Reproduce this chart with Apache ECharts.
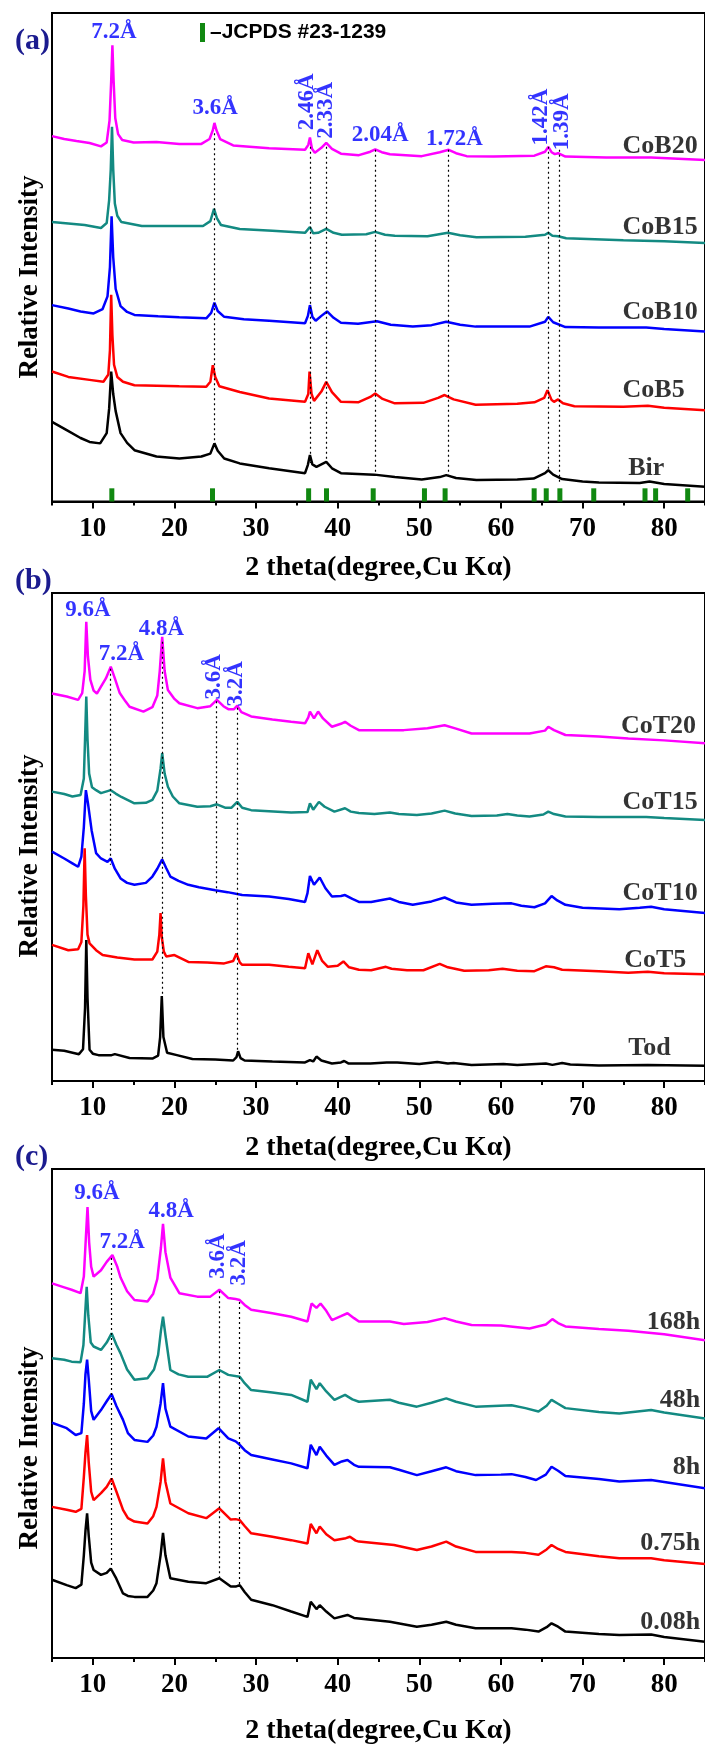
<!DOCTYPE html>
<html><head><meta charset="utf-8">
<script src="https://cdn.jsdelivr.net/npm/echarts@6/dist/echarts.min.js"></script>
<style>html,body{margin:0;padding:0;background:#fff}#c{width:705px;height:1746px}</style>
</head><body><div id="c"></div>
<script>
// ---------------- DATA ----------------
const majorTicks = [10, 20, 30, 40, 50, 60, 70, 80];
const minorTicks = [5, 15, 25, 35, 45, 55, 65, 75, 85];

// Panel (a) – birnessite series  [2theta, relative intensity (stacked)]
const CoB20 = [[5,74.8],[6.5,74.2],[8,73.8],[9.6,73.4],[11,72.7],[11.7,73.5],[12.05,78],[12.25,86],[12.4,93.4],[12.55,86],[12.75,78.5],[13.1,75.2],[13.6,74],[15,73.5],[17.8,73.6],[20.6,73.2],[23.3,73.2],[24.3,74.2],[24.7,76],[24.9,77.5],[25.15,76],[25.6,74.2],[27.2,72.9],[31.6,72.3],[36.0,72],[36.4,73],[36.6,74.5],[36.85,72.2],[37.2,71.4],[38.0,72.4],[38.6,73.4],[39.3,72.2],[40.4,71.2],[42.6,70.9],[44.0,71.6],[44.6,72.1],[45.4,71.5],[46.4,71.1],[50.3,70.7],[52.5,71.5],[53.6,72],[54.5,71.3],[55.8,70.7],[59.1,70.6],[64.1,70.8],[65.4,71.6],[65.8,72.6],[66.2,71.5],[66.6,71.1],[67.0,71.3],[67.9,70.6],[72.9,70.4],[78.4,70.4],[85,69.9]];
const CoB15 = [[5,57.2],[7,56.9],[9,56.6],[11,56.0],[11.7,57],[12.0,61.7],[12.2,68],[12.35,76.7],[12.5,68],[12.7,61],[13.0,58.5],[13.5,57.2],[16,56.4],[20,56.4],[23.5,56.4],[24.4,57.4],[24.85,59.9],[25.2,58],[25.7,56.6],[28,55.8],[32,55.4],[36.0,55.0],[36.6,56.2],[37.0,54.9],[37.6,55],[38.6,55.8],[39.5,55],[40.5,54.6],[43.5,54.7],[44.6,55.2],[45.8,54.6],[47,54.4],[51,54.3],[53.5,55.0],[55,54.5],[57,54.1],[63,54.2],[65.4,54.6],[65.8,55.0],[66.3,54.4],[67,54.3],[68,53.9],[75,53.5],[80,53.3],[85,52.9]];
const CoB10 = [[5,40.2],[7,39.5],[8.5,38.9],[10.1,38.5],[11.2,39.4],[11.8,42],[12.1,48],[12.3,58.4],[12.5,50],[12.8,43.5],[13.4,40.0],[14.2,38.8],[15.1,38.2],[18,37.9],[20.6,37.7],[23.9,37.5],[24.5,38.6],[24.9,40.7],[25.3,39],[26.1,37.8],[28.5,37.3],[31.6,37.0],[36.0,36.5],[36.35,38],[36.6,40.2],[36.9,37.8],[37.3,37.0],[38.0,38.0],[38.7,38.9],[39.5,37.6],[40.4,36.6],[42.5,36.4],[44.8,36.9],[46.5,36.2],[49.2,35.8],[51.5,36.1],[53.3,36.8],[55,36.2],[56.9,35.8],[63.5,35.8],[65.4,36.8],[65.8,37.8],[66.4,36.7],[67.9,35.7],[72,35.6],[77.8,35.6],[80,35.3],[85,34.8]];
const CoB5 = [[5,26.6],[7,25.5],[9.6,24.9],[11.3,24.5],[11.9,26],[12.1,31],[12.25,42.3],[12.4,34],[12.6,28],[13.0,25.5],[13.7,24.5],[15.1,23.8],[20.6,23.6],[23.9,23.5],[24.4,24.5],[24.7,27.9],[25.0,25.5],[25.5,23.6],[28,22.4],[31.6,21.1],[36.0,20.4],[36.4,22],[36.55,26.6],[36.8,22],[37.1,20.6],[38.0,22.5],[38.6,24.5],[39.3,22.4],[40.4,20.4],[42.5,20.3],[44.0,21.4],[44.6,22.1],[45.5,21],[47,20.1],[50.5,20.2],[52.3,21.2],[53.1,21.8],[54.2,20.9],[56.9,19.8],[62,20],[64.1,20.3],[65.3,21.2],[65.7,22.8],[66.2,20.8],[66.5,20.4],[67.0,20.9],[67.6,20.1],[69,19.5],[75,19.4],[78,19.6],[80,19.2],[85,18.7]];
const Bir = [[5,16.3],[6.8,14.6],[8.5,13.0],[9.6,12.2],[10.9,11.9],[11.7,14],[12.0,19],[12.25,26.6],[12.5,22],[12.8,18.5],[13.4,14.0],[14.2,12],[15.1,10.5],[17.8,9.2],[20.6,8.8],[23.3,9.2],[24.4,9.8],[24.9,11.9],[25.3,10.4],[26.1,8.8],[28,7.8],[31.6,6.8],[36.0,5.8],[36.35,7.5],[36.6,9.5],[36.9,7.6],[37.4,7.1],[38.0,7.6],[38.6,8.1],[39.3,6.8],[40.4,5.8],[44.5,5.5],[47,5],[50.3,4.5],[52.5,5],[53.3,5.4],[54.5,4.8],[57,4.4],[62,4.5],[64,4.7],[65.4,5.8],[65.8,6.4],[66.4,5.5],[67.5,4.6],[70,4.1],[72,3.9],[77,3.8],[78.2,4.1],[80,3.6],[85,3.0]];
const jcpdsPositions = [12.33, 24.66, 36.44, 38.63, 44.35, 50.63, 53.16, 64.07, 65.55, 67.22, 71.37, 77.65, 78.95, 82.88];
const jcpdsHeight = 2.7;

// Panel (b) – todorokite series
const CoT20 = [[5,79.4],[6.8,78.8],[8.2,78.1],[8.7,79.5],[9.0,84],[9.2,94.1],[9.4,87],[9.7,82.2],[10.1,80],[10.5,79.4],[11.0,80.8],[11.6,82.5],[12.2,84.9],[12.7,82.5],[13.3,79.5],[14.0,77.8],[14.5,76.7],[16.2,75.7],[17.3,76.6],[17.9,79],[18.2,84],[18.5,91.0],[18.8,84],[19.2,80.1],[20.0,78.3],[20.6,77.4],[22.8,76.4],[24.4,76.8],[25.2,78.1],[26.0,76.8],[26.6,76.2],[27.3,76.2],[27.7,76.9],[28.2,75.6],[29.4,74.7],[32,74.1],[34.3,73.6],[36.0,73.3],[36.4,74.5],[36.6,75.7],[37.1,74.3],[37.6,75.7],[38.2,74.3],[39.3,72.6],[40.4,73.2],[40.9,73.6],[41.6,72.8],[42.6,71.9],[46,71.9],[48.1,71.9],[51,72.3],[53.1,72.9],[54.5,72.2],[56.4,71.2],[60,71.2],[63.5,71.2],[65.4,71.8],[65.8,72.6],[66.5,71.9],[67.9,70.9],[72,70.6],[75.6,70.2],[80,69.8],[85,69.2]];
const CoT15 = [[5,59.3],[6.5,58.8],[7.5,58.3],[8.5,58.6],[8.9,62],[9.05,70],[9.2,78.8],[9.35,70],[9.55,63],[9.9,60.2],[10.4,59.6],[11.0,59.0],[11.6,59.3],[12.2,59.6],[12.8,58.9],[13.5,58.2],[15.1,56.9],[16.5,57],[17.3,57.6],[17.9,59.5],[18.3,64],[18.5,67.2],[18.8,63],[19.2,60.3],[19.8,58.3],[20.6,56.9],[22.8,56.2],[24.4,56.3],[25.2,56.7],[26.2,56.0],[27.0,56.0],[27.7,57.2],[28.3,56.0],[29.4,55.5],[34.3,55.0],[36.3,55.1],[36.6,56.9],[37.0,55.6],[37.7,57.2],[38.4,56.2],[39.6,55.2],[40.9,55.9],[41.6,55.2],[42.6,54.9],[44.5,54.7],[46.4,55.0],[47.5,54.7],[49.7,54.5],[51.5,54.8],[53.1,55.4],[54.4,54.8],[56.4,54.3],[59.5,54.4],[60.8,54.7],[62,54.4],[63.5,54.2],[65.2,54.6],[65.8,55.2],[66.5,54.7],[67.9,54.2],[72,54.1],[77.8,54.1],[80,53.9],[85,53.5]];
const CoT10 = [[5,47.0],[6.5,45.6],[7.5,44.6],[8.2,43.9],[8.6,46],[8.9,52],[9.15,59.6],[9.4,57],[9.85,51.4],[10.4,46.7],[11.0,45.6],[11.8,44.9],[12.2,45.6],[12.7,43.5],[13.4,41.5],[14.2,40.6],[15.1,40.2],[16.5,40.6],[17.3,41.9],[17.9,43.5],[18.5,45.4],[19.0,43.6],[19.5,41.9],[20.5,41.0],[21.7,40.2],[23,39.7],[25.0,39.1],[26.5,38.7],[28.3,38.1],[31.6,37.8],[34,37.3],[36.0,36.7],[36.3,38.5],[36.6,42.0],[37.1,40.2],[37.8,41.7],[38.5,39.5],[39.3,37.8],[40.4,37.9],[40.9,38.1],[41.8,37.3],[42.6,36.7],[44.1,36.7],[46.4,37.4],[47.5,36.7],[49.2,36.1],[51.5,36.8],[53.1,37.6],[54.5,36.6],[56.4,36.1],[59,36.3],[61.3,36.4],[62.5,35.9],[64.1,35.6],[65.4,36.4],[66.2,37.9],[66.9,37.0],[67.9,36.1],[70,35.5],[74.5,35.2],[77,35.5],[78.4,35.7],[80,35.2],[85,34.4]];
const CoT5 = [[5,27.9],[7,26.8],[8.2,27],[8.6,28.5],[8.85,36],[9.0,47.7],[9.15,38],[9.35,30],[9.6,28.2],[10.4,26.8],[11.2,25.8],[13,25.3],[15.1,24.9],[17.3,24.9],[17.9,26.5],[18.15,30],[18.3,34.4],[18.45,29.5],[18.7,26.5],[19.0,25.5],[20.0,25.8],[21.7,24.4],[24,24.3],[26.1,24.1],[27.2,24.6],[27.6,26.1],[28.0,24.3],[28.3,23.8],[31.6,23.8],[34,23.4],[36.0,23.1],[36.4,26.2],[36.9,23.9],[37.5,26.8],[38.1,24.6],[38.8,23.4],[40.0,23.6],[40.7,24.5],[41.4,23.3],[42.6,22.8],[44.1,22.7],[45.9,23.4],[46.6,23.0],[48.5,22.7],[50.5,22.7],[52.5,24.0],[53.5,23.3],[55.5,22.6],[58.5,22.7],[60.2,23.0],[62,22.6],[64.1,22.5],[65.5,23.5],[66.5,23.3],[67.5,22.8],[69,22.7],[72,22.5],[75.6,22.2],[78,22.4],[80,22.1],[85,21.9]];
const Tod = [[5,6.4],[6.5,6.2],[8.3,5.5],[8.8,6.5],[9.05,15],[9.2,28.9],[9.35,17],[9.6,6.4],[10.0,5.6],[10.7,5.3],[12.3,5.3],[12.7,5.5],[14.5,4.7],[17.3,4.6],[18.0,5.2],[18.25,9],[18.45,17.4],[18.65,9],[19.1,5.8],[20.3,5.3],[22.2,4.5],[25,4.4],[27.2,4.2],[27.6,4.9],[27.8,6.1],[28.1,4.7],[28.6,4.2],[32,4.0],[36.0,3.8],[36.6,4.3],[37.0,4.0],[37.4,5.0],[38,4.2],[39.3,3.6],[40.4,3.8],[40.8,4.1],[41.3,3.6],[44,3.6],[46,3.8],[47.3,3.8],[50,3.5],[52.2,3.9],[53.5,3.6],[54.2,3.7],[56.4,3.3],[60.3,3.5],[62,3.3],[65.5,3.6],[66.3,3.3],[67.5,3.7],[68.5,3.4],[72,3.2],[78,3.3],[85,3.1]];

// Panel (c) – aging time series
const h168 = [[5,76.6],[6.5,75.8],[7.4,75.3],[8.5,74.6],[8.9,78],[9.15,86],[9.35,92.2],[9.55,85],[9.8,80],[10.1,78.0],[11.0,79.3],[11.7,81],[12.4,82.4],[13.0,80],[13.4,77.8],[14.2,75],[15.1,73.2],[16.7,72.9],[17.4,74.5],[17.9,77.5],[18.35,84],[18.6,88.8],[18.9,83],[19.5,77.8],[20.6,74.6],[22.8,73.9],[24.4,73.9],[25.5,75.3],[26.6,73.6],[27.5,73.4],[28.0,73.2],[28.6,72.2],[29.4,71.2],[32,70.5],[34.3,69.8],[36.3,68.8],[36.8,72.5],[37.4,71.6],[37.9,72.5],[38.6,71],[39.3,69.1],[40.4,69.9],[41.2,70.5],[42,69.5],[42.6,68.8],[46.4,68.8],[48.1,68.3],[51,68.7],[53.1,69.5],[54.5,68.8],[56.4,68.1],[60,68],[63.5,67.4],[65.5,68.2],[66.3,69.3],[67,68.5],[67.9,67.8],[72,67.3],[75.6,66.9],[80,66.2],[85,65.0]];
const h48 = [[5,61.3],[6.5,61.0],[7.4,60.6],[8.5,60.5],[8.85,64],[9.05,70],[9.25,75.9],[9.45,70],[9.75,64.5],[10.1,63.7],[11.0,63.0],[11.7,64.5],[12.3,66.4],[12.9,64],[13.4,62.3],[14.2,59],[15.1,56.9],[16.7,57.2],[17.5,59],[18.0,62],[18.35,67],[18.6,69.8],[18.9,66],[19.5,58.9],[20.5,58.0],[21.7,57.5],[24,57.5],[25.5,58.9],[26.6,57.9],[28.0,57.5],[28.6,56.2],[29.4,54.8],[32,54.3],[34.3,53.8],[36.3,52.4],[36.7,56.9],[37.4,55],[37.8,56.2],[38.6,54.5],[39.6,52.8],[40.9,53.8],[41.8,52.9],[42.6,52.4],[46.4,52.8],[47.5,52.2],[49.7,51.4],[51.5,52.2],[53.3,53.1],[54.5,52.4],[56.9,51.4],[61.3,51.7],[63,51.1],[64.6,50.4],[65.6,51.6],[66.2,52.8],[67,52],[67.9,51.1],[72,50.3],[74.5,50.0],[78.4,50.7],[80,50.2],[85,49.0]];
const h8 = [[5,48.1],[6.8,47.0],[7.9,45.6],[8.6,46],[8.9,52],[9.1,58],[9.3,61.0],[9.5,57],[9.8,50.5],[10.1,48.7],[11.0,50.7],[11.7,52.5],[12.3,54.0],[12.9,51.5],[13.7,48.7],[14.3,46],[15.1,44.6],[16.7,44.2],[17.4,45.5],[17.8,47.3],[18.3,52],[18.6,56.2],[18.9,51],[19.5,47.3],[21.7,45.3],[23.9,44.9],[25.4,47.0],[26.6,44.9],[27.5,44.3],[28.0,43.6],[28.6,42.5],[29.4,41.5],[32,40.6],[34.3,39.8],[36.3,38.8],[36.7,43.6],[37.4,41.5],[37.8,43.2],[38.6,41.4],[39.6,39.5],[40.5,40.2],[41.2,40.5],[42,39.5],[42.6,39.1],[46.4,39.0],[47.5,38.5],[49.7,37.4],[51.5,38.2],[53.3,39.0],[54.5,38.2],[56.9,37.4],[60,37.5],[61.3,37.6],[63,37],[64.3,36.4],[65.5,37.5],[66.2,39.1],[67,38.3],[67.9,37.2],[72,36.6],[74.5,36.1],[78.4,36.4],[80,36],[85,34.7]];
const h075 = [[5,30.9],[6.8,30.3],[7.9,29.9],[8.6,30.5],[8.9,37],[9.1,42],[9.3,45.6],[9.5,40],[9.8,34],[10.1,32.3],[11.0,33.7],[11.7,35],[12.3,36.7],[12.9,34],[13.7,30.3],[14.3,28.6],[15.1,27.9],[16.7,27.5],[17.4,29],[17.8,30.9],[18.3,36],[18.6,40.8],[18.9,36],[19.5,31.6],[21.7,29.6],[23.9,28.6],[25.5,30.6],[26.9,28.3],[27.5,28.4],[28.0,28.2],[28.6,27],[29.4,25.5],[32,24.8],[34.3,24.1],[36.3,23.4],[36.7,27.4],[37.4,25.5],[37.8,26.9],[38.6,25.3],[39.6,24.1],[41.0,24.5],[41.5,24.8],[42.2,24.0],[42.6,23.8],[46.9,23.1],[49.7,22.1],[51.5,22.8],[53.3,23.8],[54.5,22.8],[56.9,21.7],[61.3,21.7],[63,21.5],[64.6,21.1],[65.6,22.2],[66.2,23.1],[67,22.3],[67.9,21.7],[72,20.8],[74.5,20.4],[78.4,20.4],[80,20],[85,19.2]];
const h008 = [[5,16.0],[6.8,14.9],[7.9,14.3],[8.6,15],[8.9,21],[9.1,26],[9.3,29.6],[9.5,25],[9.8,19.5],[10.1,18.0],[11.0,17.0],[11.7,17.4],[12.2,18.3],[12.8,16.5],[13.7,13.2],[14.3,12.7],[15.1,12.5],[16.7,12.5],[17.4,13.8],[17.8,15.3],[18.3,21],[18.6,25.6],[18.9,21],[19.5,16.3],[21.7,15.6],[23.9,15.3],[25.5,16.3],[26.9,14.6],[27.5,14.6],[28.0,14.9],[28.6,13.5],[29.4,11.9],[32,10.8],[34.3,9.5],[36.3,8.4],[36.7,11.5],[37.4,10.0],[37.8,10.8],[38.6,9.5],[39.6,8.1],[41.2,8.8],[42,8.2],[42.6,8.1],[46.4,7.4],[49.7,6.4],[51.5,6.8],[53.3,7.4],[54.5,6.8],[56.9,6.1],[61.3,6.1],[63,5.8],[64.6,5.4],[65.6,6.3],[66.2,7.1],[67,6.4],[67.9,5.4],[72,4.9],[74.5,4.7],[78.4,4.8],[80,4.3],[85,3.3]];

// Sample names and label anchors [name, 2theta, intensity]
const samplesA = [['CoB20',74.9,72.7],['CoB15',74.9,56.2],['CoB10',74.9,38.8],['CoB5',74.9,22.8],['Bir',75.6,6.9]];
const samplesB = [['CoT20',74.7,72.7],['CoT15',74.9,57.2],['CoT10',74.9,38.5],['CoT5',75.1,24.8],['Tod',75.6,6.8]];
const samplesC = [['168h',84.4,68.7],['48h',84.4,52.8],['8h',84.4,38.9],['0.75h',84.4,23.5],['0.08h',84.4,7.4]];

// d-spacing labels [text, 2theta, intensity, rotation]
const peakLabelsA = [['7.2Å',12.6,96.1,0],['3.6Å',25.0,80.5,0],['2.46Å',36.2,81.8,90],['2.33Å',38.6,80.1,90],['2.04Å',45.2,75.0,0],['1.72Å',54.3,74.2,0],['1.42Å',64.9,78.7,90],['1.39Å',67.5,77.7,90]];
const peakLabelsB = [['9.6Å',9.4,96.6,0],['7.2Å',13.5,87.4,0],['4.8Å',18.4,92.7,0],['3.6Å',24.9,82.8,90],['3.2Å',27.5,81.4,90]];
const peakLabelsC = [['9.6Å',10.5,95.0,0],['7.2Å',13.6,85.0,0],['4.8Å',19.6,91.3,0],['3.6Å',25.3,82.2,90],['3.2Å',27.9,80.8,90]];

// Dotted guide lines [2theta, top, bottom]
const guidesA = [[24.9,75.4,11.2],[36.6,72.6,7.9],[38.6,72.6,7.9],[44.6,72.0,5.4],[53.6,72.0,5.0],[65.8,72.6,6.4],[67.1,72.0,3.8]];
const guidesB = [[12.1,84.5,44.3],[18.5,90.0,17.4],[25.1,77.8,38.1],[27.7,76.5,6.0]];
const guidesC = [[12.3,81.8,18.2],[25.5,75.0,16.3],[28.0,72.8,14.5]];

const colors = ['#ff00ff', '#138a82', '#0000ff', '#ff0000', '#000000'];
const axisTitle = '2 theta(degree,Cu Kα)';
const yTitle = 'Relative Intensity';
const legendName = '–JCPDS #23-1239';

// ---------------- CHART ----------------
const SERIF = "'Liberation Serif','Times New Roman',serif";
const SANS = "'Liberation Sans',Arial,sans-serif";
const panels = [
  {top: 13, height: 488.5, series: [CoB20, CoB15, CoB10, CoB5, Bir], samples: samplesA, peaks: peakLabelsA, guides: guidesA, nameGap: 52, labelSide: 'right', letter: '(a)', letterTop: 21, yTitleY: 277},
  {top: 593, height: 488, series: [CoT20, CoT15, CoT10, CoT5, Tod], samples: samplesB, peaks: peakLabelsB, guides: guidesB, nameGap: 53, labelSide: 'right', letter: '(b)', letterTop: 561, yTitleY: 856},
  {top: 1169, height: 489, series: [h168, h48, h8, h075, h008], samples: samplesC, peaks: peakLabelsC, guides: guidesC, nameGap: 59, labelSide: 'left', letter: '(c)', letterTop: 1137, yTitleY: 1448}
];

const grid = [], xAxis = [], yAxis = [], series = [], title = [], graphic = [];
panels.forEach((p, i) => {
  grid.push({left: 52, width: 654, top: p.top, height: p.height, show: true, borderColor: '#000', borderWidth: 2, backgroundColor: 'transparent'});
  xAxis.push({
    gridIndex: i, type: 'value', min: 5, max: 85, position: 'bottom',
    axisLine: {show: true, onZero: false, lineStyle: {color: '#000', width: 2}},
    axisTick: {show: true, customValues: majorTicks, length: 7, lineStyle: {color: '#000', width: 2}},
    axisLabel: {show: true, customValues: majorTicks, margin: 14, color: '#000', fontFamily: SERIF, fontWeight: 'bold', fontSize: 27},
    splitLine: {show: false},
    name: axisTitle, nameLocation: 'middle', nameGap: p.nameGap,
    nameTextStyle: {color: '#000', fontFamily: SERIF, fontWeight: 'bold', fontSize: 28}
  });
  xAxis.push({
    gridIndex: i, type: 'value', min: 5, max: 85, position: 'bottom', offset: 0,
    axisLine: {show: false},
    axisTick: {show: true, customValues: minorTicks, length: 4, lineStyle: {color: '#000', width: 2}},
    axisLabel: {show: false}, splitLine: {show: false}
  });
  yAxis.push({
    gridIndex: i, type: 'value', min: 0, max: 100,
    axisLine: {show: true, onZero: false, lineStyle: {color: '#000', width: 2}},
    axisTick: {show: false}, axisLabel: {show: false}, splitLine: {show: false}
  });
  graphic.push({
    type: 'text', x: 30, y: p.yTitleY, rotation: Math.PI / 2, silent: true,
    style: {text: yTitle, fill: '#000', font: "bold 27px " + SERIF, align: 'center', verticalAlign: 'middle'}
  });
  title.push({text: p.letter, left: 10, top: p.letterTop, textStyle: {color: '#1b1b8f', fontFamily: SERIF, fontWeight: 'bold', fontSize: 30}});

  p.series.forEach((d, k) => {
    const s = {
      type: 'line', xAxisIndex: 2 * i, yAxisIndex: i, data: d, showSymbol: false, symbol: 'none',
      lineStyle: {color: colors[k], width: 2.5}, itemStyle: {color: colors[k]}, silent: true, z: 3
    };
    if (k === 0) {
      s.markLine = {
        silent: true, symbol: ['none', 'none'], label: {show: false}, animation: false,
        lineStyle: {color: '#000', width: 1.2, type: [2, 3]},
        data: p.guides.map(g => [{coord: [g[0], g[1]]}, {coord: [g[0], g[2]]}])
      };
    }
    series.push(s);
  });

  series.push({
    type: 'scatter', xAxisIndex: 2 * i, yAxisIndex: i, symbolSize: 0, silent: true, z: 5,
    data: p.peaks.map(t => ({name: t[0], value: [t[1], t[2]], label: {rotate: t[3]}})),
    label: {show: true, position: 'inside', formatter: '{b}', color: '#0000ff', fontFamily: SERIF, fontWeight: 'bold', fontSize: 23}
  });
  series.push({
    type: 'scatter', xAxisIndex: 2 * i, yAxisIndex: i, symbolSize: 0, silent: true, z: 5,
    data: p.samples.map(t => ({name: t[0], value: [t[1], t[2]]})),
    label: {show: true, position: p.labelSide, distance: 0, formatter: '{b}', color: '#000', fontFamily: SERIF, fontWeight: 'bold', fontSize: 26}
  });
});

series.push({
  name: legendName, type: 'bar', xAxisIndex: 0, yAxisIndex: 0, barWidth: 5, silent: true, z: 4,
  itemStyle: {color: '#118811'},
  data: jcpdsPositions.map(x => [x, jcpdsHeight])
});

const chart = echarts.init(document.getElementById('c'), null, {renderer: 'canvas'});
chart.setOption({
  animation: false,
  backgroundColor: '#ffffff',
  title: title,
  graphic: graphic,
  legend: {
    data: [legendName], left: 195, top: 17, icon: 'rect', itemWidth: 5, itemHeight: 19, selectedMode: false,
    textStyle: {color: '#000', fontFamily: SANS, fontWeight: 'bold', fontSize: 21}
  },
  grid: grid, xAxis: xAxis, yAxis: yAxis, series: series
});
</script></body></html>
